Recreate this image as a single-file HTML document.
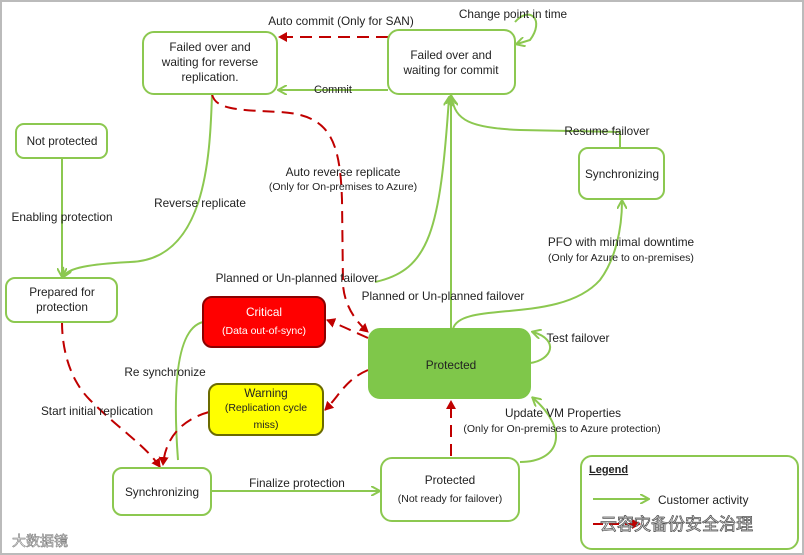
<!DOCTYPE html>
<html><head><style>
body{margin:0;width:804px;height:555px;overflow:hidden;background:#fff}
svg{display:block}
text{font-family:"Liberation Sans","Noto Sans CJK SC",sans-serif;font-size:11.8px;fill:#222}
</style></head><body>
<svg width="804" height="555" viewBox="0 0 804 555">
<defs>
<marker id="ga" markerWidth="10" markerHeight="10" refX="8" refY="5" orient="auto" markerUnits="userSpaceOnUse"><path d="M0,0 L9,5 L0,10" fill="none" stroke="#8cc850" stroke-width="2"/></marker>
<marker id="ra" markerWidth="10" markerHeight="10" refX="8" refY="5" orient="auto" markerUnits="userSpaceOnUse"><path d="M0,0 L9,5 L0,10 z" fill="#c00000"/></marker>
</defs>
<rect x="1" y="1" width="802" height="553" fill="#fff" stroke="#bbb" stroke-width="2"/>
<g fill="none" stroke="#8cc850" stroke-width="2">
<path d="M62,158 L62,276" marker-end="url(#ga)"/>
<path d="M212,94 C210,160 205,260 130,262 C90,264 68,268 64,276" marker-end="url(#ga)"/>
<path d="M388,90 L279,90" marker-end="url(#ga)"/>
<path d="M451,329 L451,96" marker-end="url(#ga)"/>
<path d="M375,282 C430,270 440,230 449,98" marker-end="url(#ga)"/>
<path d="M620,148 L620,132 L520,130 C470,128 455,120 452,98" marker-end="url(#ga)"/>
<path d="M453,329 C460,300 560,325 600,280 C615,260 622,230 622,201" marker-end="url(#ga)"/>
<path d="M515,22 C530,5 545,20 530,40 L517,44" marker-end="url(#ga)"/>
<path d="M530,363 C552,360 560,340 533,332" marker-end="url(#ga)"/>
<path d="M520,462 C560,462 570,430 533,398" marker-end="url(#ga)"/>
<path d="M203,322 C170,330 175,420 178,460" />
<path d="M212,491 L379,491" marker-end="url(#ga)"/>
</g>
<g fill="none" stroke="#c00000" stroke-width="2" stroke-dasharray="12,7">
<path d="M388,37 L279,37" marker-end="url(#ra)"/>
<path d="M212,94 C215,110 240,110 280,112 C330,115 340,140 342,200 L343,285 C345,310 360,325 368,332" marker-end="url(#ra)"/>
<path d="M62,322 C62,350 70,380 90,400 C120,430 145,445 160,467" marker-end="url(#ra)"/>
<path d="M209,412 C180,420 165,440 163,465" marker-end="url(#ra)"/>
<path d="M451,456 L451,401" marker-end="url(#ra)"/>
<path d="M368,338 C350,330 340,325 327,320" marker-end="url(#ra)"/>
<path d="M368,370 C345,380 340,395 325,410" marker-end="url(#ra)"/>
</g>
<g stroke-width="2">
<rect x="143" y="32" width="134" height="62" rx="11" fill="#fff" stroke="#8cc850"/>
<rect x="388" y="30" width="127" height="64" rx="11" fill="#fff" stroke="#8cc850"/>
<rect x="16" y="124" width="91" height="34" rx="8" fill="#fff" stroke="#8cc850"/>
<rect x="579" y="148" width="85" height="51" rx="9" fill="#fff" stroke="#8cc850"/>
<rect x="6" y="278" width="111" height="44" rx="9" fill="#fff" stroke="#8cc850"/>
<rect x="203" y="297" width="122" height="50" rx="9" fill="#ff0000" stroke="#8b0000"/>
<rect x="369" y="329" width="161" height="69" rx="11" fill="#7fc74a" stroke="#7fc74a"/>
<rect x="209" y="384" width="114" height="51" rx="9" fill="#ffff00" stroke="#6b6b00"/>
<rect x="113" y="468" width="98" height="47" rx="9" fill="#fff" stroke="#8cc850"/>
<rect x="381" y="458" width="138" height="63" rx="11" fill="#fff" stroke="#8cc850"/>
<rect x="581" y="456" width="217" height="93" rx="11" fill="#fff" stroke="#8cc850"/>
</g>
<path d="M593,499 L648,499" fill="none" stroke="#8cc850" stroke-width="2" marker-end="url(#ga)"/>
<path d="M593,524 L640,524" fill="none" stroke="#c00000" stroke-width="2" stroke-dasharray="10,6" marker-end="url(#ra)"/>
<g text-anchor="middle">
<text x="210" y="51">Failed over and</text>
<text x="210" y="66">waiting for reverse</text>
<text x="210" y="81">replication.</text>
<text x="451" y="59">Failed over and</text>
<text x="451" y="74">waiting for commit</text>
<text x="62" y="145">Not protected</text>
<text x="622" y="178">Synchronizing</text>
<text x="62" y="296">Prepared for</text>
<text x="62" y="311">protection</text>
<text x="264" y="316" style="fill:#fff">Critical</text>
<text x="264" y="334" style="fill:#fff;font-size:10.5px">(Data out-of-sync)</text>
<text x="451" y="369">Protected</text>
<text x="266" y="397">Warning</text>
<text x="266" y="411" style="font-size:10.5px">(Replication cycle</text>
<text x="266" y="428" style="font-size:10.5px">miss)</text>
<text x="162" y="496">Synchronizing</text>
<text x="450" y="484">Protected</text>
<text x="450" y="502" style="font-size:10.5px">(Not ready for failover)</text>
<text x="341" y="25">Auto commit  (Only for SAN)</text>
<text x="513" y="18">Change point in time</text>
<text x="333" y="93" style="font-size:11px">Commit</text>
<text x="343" y="176">Auto reverse replicate</text>
<text x="343" y="190" style="font-size:10.5px">(Only for On-premises to Azure)</text>
<text x="62" y="221">Enabling protection</text>
<text x="200" y="207">Reverse replicate</text>
<text x="607" y="135">Resume failover</text>
<text x="621" y="246">PFO with minimal downtime</text>
<text x="621" y="261" style="font-size:10.5px">(Only for Azure to on-premises)</text>
<text x="297" y="282">Planned or Un-planned failover</text>
<text x="443" y="300">Planned or Un-planned failover</text>
<text x="578" y="342">Test failover</text>
<text x="165" y="376">Re synchronize</text>
<text x="97" y="415">Start initial replication</text>
<text x="563" y="417">Update VM Properties</text>
<text x="562" y="432" style="font-size:10.5px">(Only for On-premises to Azure protection)</text>
<text x="297" y="487">Finalize protection</text>
</g>
<text x="589" y="473" style="text-decoration:underline;font-weight:bold;font-size:11px">Legend</text>
<text x="658" y="504">Customer activity</text>
<text x="600" y="530" style="font-size:17px;fill:#fff;stroke:#555;stroke-width:0.8">云容灾备份安全治理</text>
<text x="12" y="546" style="font-size:14px;fill:#fff;stroke:#777;stroke-width:0.6">大数据镜</text>
</svg>
</body></html>
